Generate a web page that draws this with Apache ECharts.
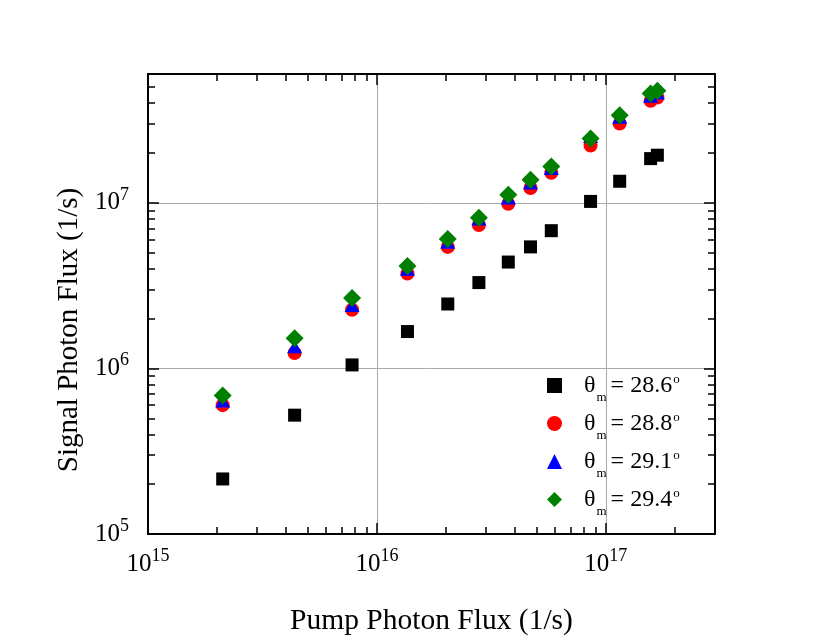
<!doctype html>
<html lang="en">
<head>
  <meta charset="UTF-8">
  <title>Signal Photon Flux vs Pump Photon Flux</title>
  <script src="https://cdn.jsdelivr.net/npm/echarts@6/dist/echarts.min.js"></script>
  <style>
    html, body { margin: 0; padding: 0; background: #fff; }
    #chart { width: 830px; height: 642px; }
  </style>
</head>
<body>
<div id="chart"></div>
<script>
  // pump photon flux (1/s), shared by every series
  var pumpFlux = [2.12e15, 4.37e15, 7.79e15, 1.36e16, 2.04e16, 2.79e16, 3.75e16,
                  4.69e16, 5.78e16, 8.58e16, 1.15e17, 1.57e17, 1.68e17];
  // signal photon flux (1/s) per phase matching angle
  var signal286 = [2.15e5, 5.22e5, 1.05e6, 1.67e6, 2.45e6, 3.30e6, 4.39e6,
                   5.42e6, 6.79e6, 1.02e7, 1.35e7, 1.85e7, 1.94e7];
  var signal288 = [6.00e5, 1.24e6, 2.26e6, 3.74e6, 5.42e6, 7.35e6, 9.86e6,
                   1.23e7, 1.52e7, 2.22e7, 3.01e7, 4.13e7, 4.33e7];
  var signal291 = [6.35e5, 1.35e6, 2.40e6, 3.97e6, 5.79e6, 8.00e6, 1.07e7,
                   1.32e7, 1.61e7, 2.52e7, 3.29e7, 4.41e7, 4.60e7];
  var signal294 = [6.87e5, 1.52e6, 2.66e6, 4.16e6, 6.04e6, 8.14e6, 1.12e7,
                   1.38e7, 1.66e7, 2.45e7, 3.38e7, 4.58e7, 4.75e7];
  var angles = ['28.6', '28.8', '29.1', '29.4'];

  var xRange = [1e15, 3e17];
  var yRange = [1e5, 6e7];
  var xMinor = [2e15, 3e15, 4e15, 5e15, 6e15, 7e15, 8e15, 9e15,
                2e16, 3e16, 4e16, 5e16, 6e16, 7e16, 8e16, 9e16, 2e17];
  var yMinor = [2e5, 3e5, 4e5, 5e5, 6e5, 7e5, 8e5, 9e5,
                2e6, 3e6, 4e6, 5e6, 6e6, 7e6, 8e6, 9e6,
                2e7, 3e7, 4e7, 5e7];

  var serif = 'Liberation Serif';
  var lg = Math.log10;

  function pairs(ys) {
    return pumpFlux.map(function (x, i) { return [x, ys[i]]; });
  }

  function powLabel(v) {
    return '{b|10}{s|' + Math.round(lg(v)) + '}';
  }

  var labelRich = {
    b: { fontSize: 25, fontFamily: serif, color: '#000' },
    s: { fontSize: 18, fontFamily: serif, color: '#000', padding: [0, 0, 16, 0] }
  };

  function majorAxis(pos, range, withLabel, extra) {
    var a = {
      type: 'log',
      logBase: 10,
      position: pos,
      min: range[0],
      max: range[1],
      axisLine: { show: true, onZero: false, lineStyle: { color: '#000', width: 2 } },
      axisTick: { show: true, inside: true, length: 11, lineStyle: { color: '#000', width: 1.5 } },
      axisLabel: withLabel ? {
        show: true, formatter: powLabel, rich: labelRich, margin: 13,
        showMaxLabel: false, showMinLabel: true
      } : { show: false },
      splitLine: { show: withLabel, lineStyle: { color: '#aaa', width: 1 } },
      minorTick: { show: false }
    };
    return Object.assign(a, extra || {});
  }

  function minorAxis(pos, range, ticks) {
    return {
      type: 'value',
      position: pos,
      min: lg(range[0]),
      max: lg(range[1]),
      axisLine: { show: false, onZero: false },
      axisTick: {
        show: true, inside: true, length: 7,
        customValues: ticks.map(lg),
        lineStyle: { color: '#000', width: 1.5 }
      },
      axisLabel: { show: false },
      splitLine: { show: false }
    };
  }

  var chart = echarts.init(document.getElementById('chart'));

  var symbols = ['rect', 'circle', 'triangle', 'diamond'];
  var colors = ['#000000', '#ff0000', '#0000ff', '#008000'];
  var sizes = [13, 14, [15, 13], 18];
  var values = [signal286, signal288, signal291, signal294];

  var series = angles.map(function (a, i) {
    return {
      name: a,
      type: 'scatter',
      xAxisIndex: 0,
      yAxisIndex: 0,
      symbol: symbols[i],
      symbolSize: sizes[i],
      itemStyle: { color: colors[i], opacity: 1 },
      z: 2 + i,
      data: pairs(values[i])
    };
  });

  var option = {
    backgroundColor: '#fff',
    animation: false,
    grid: { left: 148, top: 74, right: 115, bottom: 108, containLabel: false, outerBoundsMode: 'none' },
    legend: {
      show: true,
      orient: 'vertical',
      left: 542,
      top: 368,
      itemWidth: 15,
      itemHeight: 15,
      itemGap: 7,
      data: angles,
      formatter: function (name) {
        return '{t|θ}{m|m}{e|= ' + name + '}{o|o}';
      },
      textStyle: {
        fontFamily: serif,
        color: '#000',
        rich: {
          t: { fontSize: 24, fontFamily: serif, color: '#000', padding: [0, 0, 0, 17] },
          m: { fontSize: 13, fontFamily: serif, color: '#000', padding: [24, 0, 0, 1] },
          e: { fontSize: 24, fontFamily: serif, color: '#000', padding: [0, 0, 0, 4] },
          o: { fontSize: 13, fontFamily: serif, color: '#000', padding: [0, 0, 12, 1] }
        }
      }
    },
    xAxis: [
      majorAxis('bottom', xRange, true, {
        name: 'Pump Photon Flux (1/s)',
        nameLocation: 'middle',
        nameGap: 72,
        nameTextStyle: { fontSize: 29.5, fontFamily: serif, color: '#000' }
      }),
      minorAxis('bottom', xRange, xMinor),
      majorAxis('top', xRange, false),
      minorAxis('top', xRange, xMinor)
    ],
    yAxis: [
      majorAxis('left', yRange, true, {
        name: 'Signal Photon Flux (1/s)',
        nameLocation: 'middle',
        nameGap: 52,
        nameTextStyle: { fontSize: 29, fontFamily: serif, color: '#000', padding: [0, 52, 0, 0] }
      }),
      minorAxis('left', yRange, yMinor),
      majorAxis('right', yRange, false),
      minorAxis('right', yRange, yMinor)
    ],
    series: series
  };

  option.yAxis[0].axisLabel.margin = 19;

  chart.setOption(option);
</script>
</body>
</html>
